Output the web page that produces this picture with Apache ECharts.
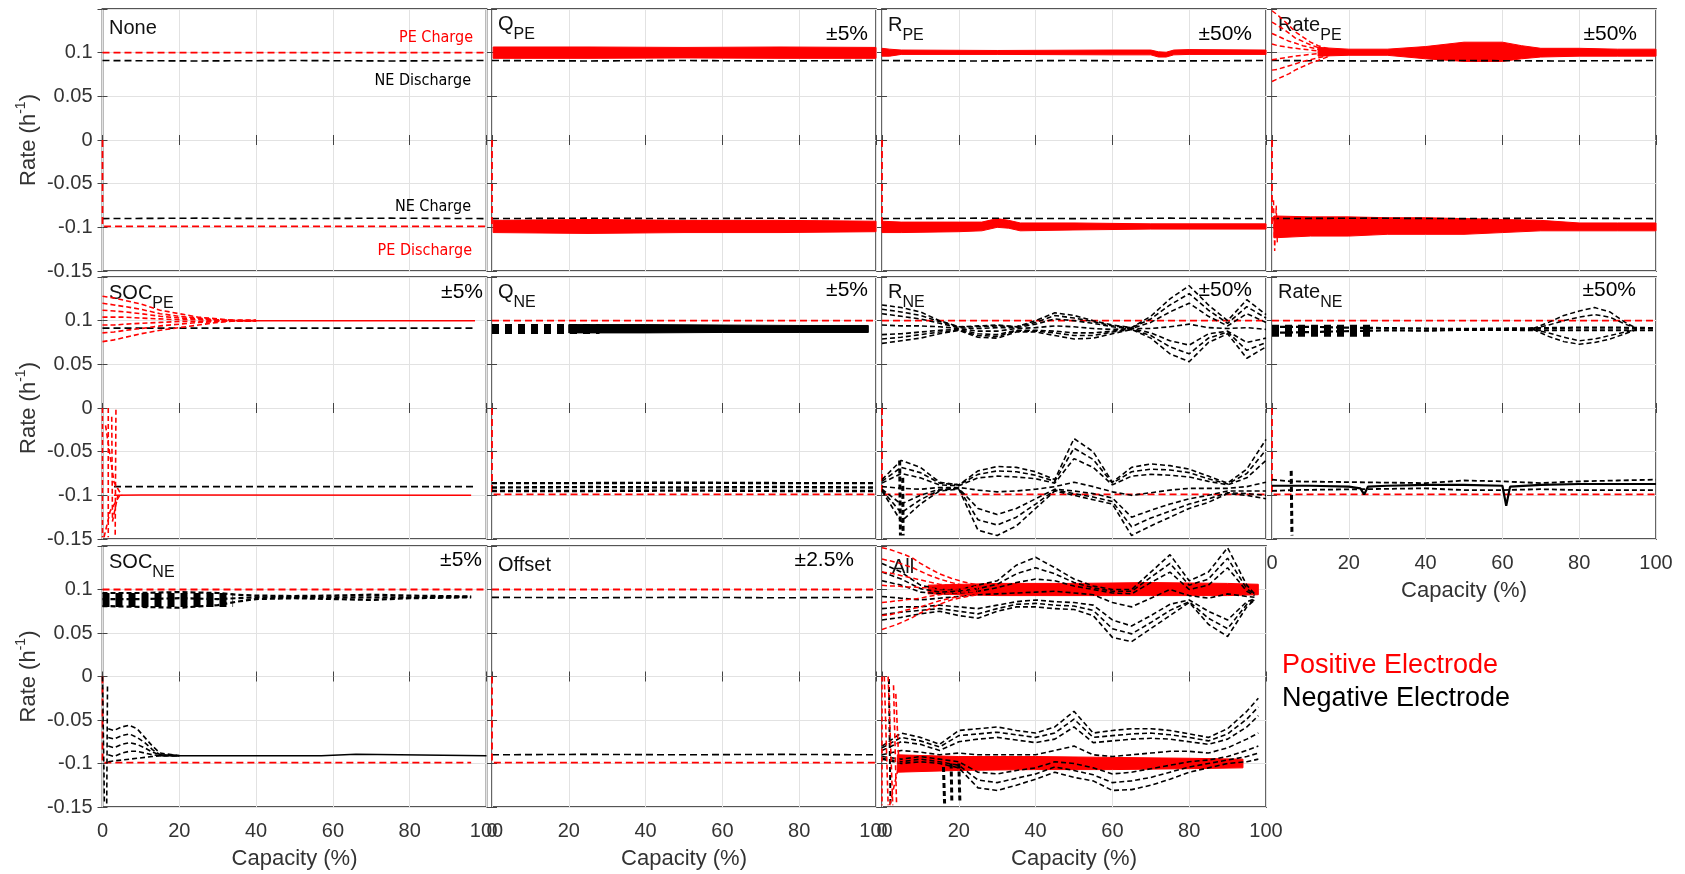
<!DOCTYPE html>
<html><head><meta charset="utf-8">
<script src="https://cdn.jsdelivr.net/npm/echarts@6/dist/echarts.min.js"></script>
<style>html,body{margin:0;padding:0;background:#fff}#c{width:1685px;height:874px}</style>
</head><body><div id="c"></div>
<script>
// ---------------- DATA ----------------
const X_MIN = 0, X_MAX = 100, X_STEP = 20;
const Y_MIN = -0.15, Y_MAX = 0.15, Y_STEP = 0.05;
const PANEL_MAIN  = ['None','Q','R','Rate','SOC','Q','R','Rate','SOC','Offset','All'];
const PANEL_SUB   = ['','PE','PE','PE','PE','NE','NE','NE','NE','',''];
const PANEL_RANGE = ['','±5%','±50%','±50%','±5%','±5%','±50%','±50%','±5%','±2.5%',''];
const NONE_NOTES  = ['PE Charge','NE Discharge','NE Charge','PE Discharge'];
const LEGEND_NAMES = ['Positive Electrode','Negative Electrode'];

// common nominal lines
const flat_x = [0, 25, 50, 75, 100];
const pe_charge = [0.1, 0.1, 0.1, 0.1, 0.1];
const ne_discharge = [0.091, 0.0905, 0.091, 0.0905, 0.091];
const ne_charge = [-0.09, -0.0895, -0.09, -0.0895, -0.09];
const pe_dis_x = [0, 0, 25, 50, 75, 100];
const pe_discharge = [0, -0.099, -0.099, -0.099, -0.099, -0.099];

// Q_PE
const qpe_x = [0.3, 25, 50, 75, 100];
const qpe_top_lo = [0.0935, 0.0935, 0.094, 0.0935, 0.0935];
const qpe_top_hi = [0.1065, 0.1065, 0.106, 0.1065, 0.106];
const qpe_bot_lo = [-0.106, -0.107, -0.106, -0.106, -0.105];
const qpe_bot_hi = [-0.092, -0.091, -0.092, -0.092, -0.093];

// R_PE
const rpe_top_x = [0, 2, 5, 30, 60, 70, 72, 74, 76, 80, 100];
const rpe_top_lo = [0.096, 0.096, 0.098, 0.098, 0.0975, 0.0975, 0.095, 0.095, 0.0975, 0.098, 0.098];
const rpe_top_hi = [0.105, 0.104, 0.103, 0.1025, 0.103, 0.103, 0.101, 0.1005, 0.103, 0.1035, 0.103];
const rpe_bot_x = [0, 5, 20, 26, 30, 33, 36, 50, 70, 100];
const rpe_bot_lo = [-0.106, -0.106, -0.105, -0.104, -0.100, -0.101, -0.104, -0.103, -0.102, -0.102];
const rpe_bot_hi = [-0.093, -0.094, -0.094, -0.094, -0.090, -0.092, -0.095, -0.095, -0.096, -0.096];

// Rate_PE
const ratepe_fan_x = [0, 1.5, 3, 4.5, 6, 8, 10, 12, 15];
const ratepe_fan_1 = [0.148, 0.143, 0.137, 0.131, 0.124, 0.118, 0.112, 0.108, 0.104];
const ratepe_fan_2 = [0.135, 0.131, 0.127, 0.122, 0.117, 0.113, 0.109, 0.106, 0.103];
const ratepe_fan_3 = [0.122, 0.119, 0.116, 0.113, 0.111, 0.108, 0.106, 0.104, 0.102];
const ratepe_fan_4 = [0.110, 0.108, 0.107, 0.106, 0.105, 0.104, 0.103, 0.102, 0.101];
const ratepe_fan_5 = [0.092, 0.093, 0.094, 0.095, 0.096, 0.097, 0.098, 0.099, 0.099];
const ratepe_fan_6 = [0.080, 0.081, 0.083, 0.085, 0.087, 0.090, 0.092, 0.094, 0.097];
const ratepe_fan_7 = [0.067, 0.070, 0.073, 0.076, 0.080, 0.084, 0.088, 0.091, 0.096];
const ratepe_top_x = [12, 20, 30, 40, 50, 60, 65, 70, 80, 90, 100];
const ratepe_top_hi = [0.106, 0.104, 0.104, 0.107, 0.112, 0.112, 0.108, 0.105, 0.105, 0.104, 0.104];
const ratepe_top_lo = [0.096, 0.097, 0.097, 0.093, 0.090, 0.090, 0.093, 0.095, 0.096, 0.096, 0.096];
const ratepe_bot_x = [0.5, 10, 20, 30, 40, 50, 60, 70, 80, 90, 100];
const ratepe_bot_hi = [-0.087, -0.088, -0.088, -0.089, -0.089, -0.090, -0.091, -0.092, -0.095, -0.095, -0.095];
const ratepe_bot_lo = [-0.112, -0.110, -0.110, -0.108, -0.108, -0.108, -0.106, -0.104, -0.104, -0.104, -0.104];
const ratepe_spike = [[0.4, -0.069], [0.7, -0.127], [1.1, -0.075], [1.4, -0.12]];

// SOC_PE
const socpe_fan_x = [0, 3, 6, 10, 15, 20, 25, 30, 35, 40];
const socpe_fan_1 = [0.128, 0.126, 0.123, 0.119, 0.112, 0.108, 0.104, 0.102, 0.100, 0.100];
const socpe_fan_2 = [0.120, 0.118, 0.116, 0.113, 0.108, 0.105, 0.103, 0.101, 0.100, 0.100];
const socpe_fan_3 = [0.112, 0.111, 0.110, 0.108, 0.105, 0.103, 0.102, 0.101, 0.100, 0.100];
const socpe_fan_4 = [0.104, 0.104, 0.104, 0.103, 0.102, 0.101, 0.101, 0.100, 0.100, 0.100];
const socpe_fan_5 = [0.095, 0.095, 0.096, 0.097, 0.098, 0.099, 0.099, 0.100, 0.100, 0.100];
const socpe_fan_6 = [0.086, 0.087, 0.089, 0.091, 0.094, 0.096, 0.098, 0.099, 0.100, 0.100];
const socpe_fan_7 = [0.076, 0.078, 0.081, 0.085, 0.089, 0.092, 0.095, 0.098, 0.100, 0.100];
const socpe_pe_ch_x = [35, 72, 72.5, 97];
const socpe_pe_ch = [0.1, 0.1, 0.1012, 0.1];
const socpe_ne_dis_x = [0, 97];
const socpe_ne_dis = [0.0915, 0.0915];
const socpe_ne_ch_x = [3, 97];
const socpe_ne_ch = [-0.09, -0.09];
const socpe_drop_1 = [[0, 0], [0, -0.148]];
const socpe_drop_2 = [[1.5, 0], [1.5, -0.148]];
const socpe_drop_3 = [[3.5, -0.002], [3.3, -0.148]];
const socpe_drop_4 = [[0.4, -0.148], [2, -0.118], [4.5, -0.1]];
const socpe_drop_5 = [[0.8, -0.02], [3, -0.085], [5, -0.1]];
const socpe_drop_6 = [[2.4, -0.01], [2.6, -0.13], [4, -0.1]];
const socpe_pe_dis_x = [3, 10, 20, 96];
const socpe_pe_dis = [-0.1, -0.0995, -0.0995, -0.1];

// Q_NE
const qne_comb = [[0, 0.0905], [28, 0.0905]];
const qne_band_x = [20, 40, 60, 80, 98];
const qne_band_lo = [0.086, 0.086, 0.0865, 0.0865, 0.0865];
const qne_band_hi = [0.0955, 0.0955, 0.095, 0.0945, 0.0945];
const qne_bot_x = [0, 25, 50, 75, 100];
const qne_bot_1 = [-0.086, -0.086, -0.0855, -0.086, -0.086];
const qne_bot_2 = [-0.091, -0.0905, -0.091, -0.0905, -0.091];
const qne_bot_3 = [-0.095, -0.095, -0.0945, -0.095, -0.095];

// R_NE
const G5 = [0, 5, 10, 15, 20, 25, 30, 35, 40, 45, 50, 55, 60, 65, 70, 75, 80, 85, 90, 95, 100];
const rne_top_1 = [.118,.115,.110,.100,.093,.094,.095,.093,.100,.109,.106,.100,.095,.092,.105,.125,.140,.118,.100,.124,.107];
const rne_top_6 = [.113,.110,.106,.099,.093,.093,.094,.093,.098,.106,.103,.099,.094,.092,.102,.118,.131,.112,.097,.116,.103];
const rne_top_2 = [.108,.105,.102,.097,.092,.091,.092,.092,.096,.102,.100,.097,.093,.091,.098,.110,.120,.105,.094,.108,.098];
const rne_top_3 = [.095,.094,.094,.093,.091,.088,.088,.091,.092,.094,.093,.091,.090,.091,.091,.093,.096,.092,.091,.092,.090];
const rne_top_4 = [.084,.085,.087,.089,.090,.085,.084,.089,.089,.088,.086,.086,.088,.091,.086,.077,.072,.085,.088,.075,.080];
const rne_top_7 = [.079,.081,.084,.087,.089,.083,.082,.088,.088,.086,.083,.083,.087,.090,.083,.070,.062,.080,.087,.066,.075];
const rne_top_5 = [.074,.077,.080,.085,.089,.081,.080,.087,.087,.083,.079,.080,.085,.090,.080,.062,.053,.075,.085,.057,.070];
const rne_bot_1 = [-.082,-.060,-.068,-.085,-.088,-.072,-.067,-.068,-.073,-.082,-.035,-.050,-.085,-.068,-.064,-.066,-.070,-.078,-.086,-.070,-.036];
const rne_bot_6 = [-.084,-.068,-.074,-.086,-.088,-.076,-.072,-.073,-.077,-.084,-.046,-.059,-.086,-.073,-.070,-.071,-.074,-.081,-.087,-.075,-.048];
const rne_bot_2 = [-.086,-.075,-.080,-.088,-.089,-.080,-.078,-.079,-.081,-.086,-.058,-.068,-.088,-.078,-.076,-.077,-.079,-.084,-.088,-.080,-.060];
const rne_bot_3 = [-.090,-.092,-.093,-.091,-.091,-.094,-.096,-.095,-.093,-.090,-.085,-.090,-.096,-.100,-.097,-.094,-.092,-.092,-.092,-.090,-.085];
const rne_bot_4 = [-.093,-.110,-.100,-.093,-.092,-.115,-.122,-.115,-.104,-.093,-.095,-.098,-.103,-.125,-.117,-.110,-.104,-.100,-.095,-.095,-.095];
const rne_bot_7 = [-.094,-.120,-.105,-.094,-.092,-.128,-.134,-.125,-.110,-.094,-.098,-.102,-.107,-.136,-.126,-.118,-.110,-.104,-.097,-.098,-.100];
const rne_bot_5 = [-.095,-.130,-.110,-.095,-.093,-.140,-.146,-.135,-.115,-.095,-.100,-.105,-.110,-.146,-.135,-.125,-.115,-.108,-.098,-.100,-.104];
const rne_spike_1 = [[4.6, -0.06], [4.8, -0.146]];
const rne_spike_2 = [[5.4, -0.08], [5.5, -0.146]];

// Rate_NE
const ratene_comb = [[0, 0.0885], [26, 0.0885]];
const ratene_top_x = [0, 10, 20, 30, 40, 50, 60, 70, 80, 90, 100];
const ratene_top_1 = [0.093, 0.093, 0.092, 0.0915, 0.091, 0.0905, 0.091, 0.0915, 0.092, 0.092, 0.0915];
const ratene_top_2 = [0.086, 0.087, 0.088, 0.089, 0.0885, 0.0895, 0.0895, 0.089, 0.089, 0.089, 0.089];
const ratene_bulge_x = [68, 72, 76, 80, 84, 88, 92, 95];
const ratene_bulge_1 = [0.091, 0.098, 0.106, 0.111, 0.115, 0.110, 0.098, 0.091];
const ratene_bulge_2 = [0.091, 0.095, 0.100, 0.104, 0.107, 0.104, 0.096, 0.091];
const ratene_bulge_3 = [0.090, 0.086, 0.081, 0.077, 0.079, 0.083, 0.087, 0.090];
const ratene_bulge_4 = [0.090, 0.082, 0.076, 0.073, 0.075, 0.079, 0.085, 0.090];
const ratene_bot_x = [0, 10, 20, 23, 24, 25, 30, 40, 50, 60, 61, 62, 70, 80, 90, 100];
const ratene_bot = [-0.089, -0.089, -0.090, -0.092, -0.099, -0.090, -0.089, -0.088, -0.088, -0.089, -0.112, -0.090, -0.088, -0.087, -0.087, -0.087];
const ratene_edge_x = [0, 5, 40, 50, 60, 70, 80, 90, 100];
const ratene_edge_hi = [-0.082, -0.084, -0.086, -0.083, -0.084, -0.086, -0.084, -0.083, -0.082];
const ratene_edge_lo = [-0.095, -0.094, -0.092, -0.094, -0.094, -0.093, -0.094, -0.094, -0.094];
const ratene_spike = [[5, -0.072], [5.2, -0.146]];

// SOC_NE
const socne_top_x = [0, 10, 20, 30, 35, 40, 50, 60, 70, 80, 96];
const socne_top_1 = [0.096, 0.096, 0.097, 0.096, 0.094, 0.093, 0.0925, 0.093, 0.094, 0.093, 0.092];
const socne_top_2 = [0.089, 0.089, 0.090, 0.089, 0.090, 0.091, 0.091, 0.091, 0.091, 0.091, 0.0915];
const socne_top_3 = [0.081, 0.080, 0.079, 0.082, 0.086, 0.089, 0.090, 0.089, 0.088, 0.090, 0.091];
const socne_comb = [[0, 0.088], [34, 0.088]];
const socne_drop_1 = [[0, 0], [0.5, -0.146]];
const socne_drop_2 = [[1.1, -0.146], [1.3, -0.01]];
const socne_fan_x = [1.5, 3, 5, 7, 9, 11, 13, 15, 20];
const socne_fan_1 = [-0.060, -0.062, -0.058, -0.056, -0.060, -0.070, -0.080, -0.088, -0.091];
const socne_fan_2 = [-0.070, -0.072, -0.068, -0.066, -0.070, -0.076, -0.084, -0.090, -0.091];
const socne_fan_3 = [-0.080, -0.082, -0.078, -0.076, -0.078, -0.082, -0.087, -0.090, -0.091];
const socne_fan_4 = [-0.090, -0.092, -0.088, -0.086, -0.086, -0.088, -0.090, -0.091, -0.091];
const socne_fan_5 = [-0.098, -0.097, -0.096, -0.095, -0.094, -0.093, -0.092, -0.091, -0.091];
const socne_ne_ch_x = [15, 57, 57.5, 66, 66.5, 100];
const socne_ne_ch = [-0.091, -0.091, -0.0895, -0.0895, -0.091, -0.091];
const socne_pe_dis_x = [0, 0, 96];
const socne_pe_dis = [0, -0.099, -0.099];

// All
const all_x_top = [0, 5, 10, 15, 20, 25, 30, 35, 40, 45, 50, 55, 60, 65, 70, 75, 80, 85, 90, 95, 97];
const all_top_1 = [.130,.120,.105,.100,.100,.105,.110,.128,.137,.125,.112,.104,.100,.100,.120,.140,.110,.120,.148,.105,.095];
const all_top_6 = [.120,.112,.101,.097,.098,.101,.106,.118,.125,.118,.108,.102,.098,.098,.114,.130,.105,.112,.136,.101,.094];
const all_top_2 = [.110,.105,.097,.095,.096,.098,.102,.108,.112,.110,.104,.100,.096,.095,.108,.120,.100,.105,.125,.098,.093];
const all_top_3 = [.092,.090,.088,.090,.092,.094,.095,.096,.097,.098,.096,.094,.085,.080,.090,.100,.093,.090,.095,.092,.091];
const all_top_4 = [.078,.080,.080,.082,.080,.078,.082,.086,.088,.086,.085,.082,.065,.058,.070,.083,.088,.075,.065,.086,.089];
const all_top_7 = [.071,.074,.076,.078,.075,.072,.078,.083,.084,.082,.081,.076,.055,.049,.062,.076,.086,.067,.055,.083,.088];
const all_top_5 = [.065,.068,.072,.075,.070,.067,.075,.080,.080,.078,.077,.070,.045,.040,.055,.070,.085,.060,.046,.080,.088];
const all_x_bot = [0, 5, 10, 15, 20, 25, 30, 35, 40, 45, 50, 55, 60, 65, 70, 75, 80, 85, 90, 95, 98];
const all_bot_1 = [-.080,-.065,-.070,-.078,-.062,-.060,-.058,-.062,-.065,-.058,-.040,-.065,-.062,-.060,-.060,-.062,-.066,-.070,-.060,-.040,-.025];
const all_bot_6 = [-.082,-.070,-.074,-.081,-.068,-.066,-.064,-.067,-.070,-.065,-.049,-.070,-.068,-.066,-.065,-.067,-.070,-.074,-.066,-.049,-.035];
const all_bot_2 = [-.085,-.075,-.078,-.085,-.075,-.072,-.070,-.073,-.076,-.072,-.058,-.076,-.074,-.072,-.071,-.072,-.075,-.078,-.072,-.058,-.045];
const all_bot_3 = [-.090,-.085,-.087,-.090,-.088,-.090,-.090,-.090,-.090,-.085,-.080,-.090,-.092,-.090,-.088,-.086,-.086,-.088,-.082,-.072,-.065];
const all_bot_4 = [-.092,-.095,-.092,-.095,-.098,-.110,-.112,-.108,-.105,-.098,-.100,-.105,-.112,-.110,-.106,-.102,-.098,-.096,-.092,-.085,-.080];
const all_bot_7 = [-.094,-.098,-.095,-.098,-.102,-.119,-.122,-.117,-.112,-.104,-.108,-.113,-.122,-.120,-.116,-.110,-.104,-.100,-.096,-.092,-.088];
const all_bot_5 = [-.095,-.100,-.098,-.100,-.105,-.128,-.131,-.125,-.118,-.110,-.116,-.120,-.131,-.130,-.125,-.118,-.110,-.105,-.100,-.098,-.095];
const all_spike_1 = [[1.8, -0.003], [2.2, -0.146]];
const all_block_1 = [[16, -0.104], [16.3, -0.146]];
const all_block_2 = [[18, -0.100], [18.2, -0.146]];
const all_block_3 = [[20, -0.100], [20.3, -0.146]];
const all_fan_x = [0, 2, 4, 6, 8, 10, 12, 15, 18, 21, 25];
const all_fan_1 = [.148,.146,.143,.140,.136,.130,.125,.118,.113,.109,.105];
const all_fan_2 = [.135,.133,.131,.128,.125,.121,.117,.112,.108,.105,.103];
const all_fan_3 = [.120,.119,.117,.115,.113,.111,.109,.106,.104,.102,.101];
const all_fan_4 = [.105,.104,.104,.103,.103,.102,.102,.101,.101,.100,.100];
const all_fan_5 = [.085,.086,.087,.088,.089,.090,.092,.094,.096,.097,.098];
const all_fan_6 = [.070,.071,.073,.076,.078,.080,.083,.087,.090,.093,.095];
const all_fan_7 = [.054,.057,.060,.064,.068,.073,.077,.083,.088,.091,.094];
const all_rtop_x = [12, 30, 50, 70, 90, 98];
const all_rtop_lo = [0.095, 0.093, 0.093, 0.093, 0.093, 0.094];
const all_rtop_hi = [0.105, 0.107, 0.107, 0.108, 0.107, 0.106];
const all_drop_1 = [[0, 0], [0, -0.148]];
const all_drop_2 = [[0.6, 0], [1.6, -0.148]];
const all_drop_3 = [[1.6, 0], [2.8, -0.148]];
const all_drop_4 = [[3, -0.01], [3.8, -0.148]];
const all_drop_5 = [[2, -0.148], [4.5, -0.1]];
const all_drop_6 = [[3.6, -0.02], [4.4, -0.1]];
const all_rbot_x = [4, 20, 40, 60, 80, 94];
const all_rbot_lo = [-0.110, -0.108, -0.107, -0.107, -0.106, -0.105];
const all_rbot_hi = [-0.090, -0.092, -0.092, -0.093, -0.094, -0.095];

// ---------------- BUILD ----------------
const R = '#ff0000', K = '#000000';
const DASH = [7, 4], FINE = [5, 3], COMB = [7, 6];
const FONT = '"Liberation Sans", Arial, sans-serif';
const TXT = '#333333';
function zip(xs, ys) { return xs.map((x, i) => [x, ys[i]]); }
function nameOf(color) { return color === R ? LEGEND_NAMES[0] : LEGEND_NAMES[1]; }
function line(gi, data, color, width, dash) {
  return { type: 'line', name: nameOf(color), color: color,
    xAxisIndex: gi, yAxisIndex: gi, data: data, symbol: 'none', silent: true, z: 2,
    lineStyle: { color: color, width: width, type: dash || 'solid', cap: 'butt' } };
}
// filled band between a lower and an upper curve, drawn through the axis scales
function band(gi, xs, lo, hi, color) {
  const pts = xs.map((x, i) => [x, lo[i], hi[i]]);
  return { type: 'custom', name: nameOf(color), color: color, coordinateSystem: 'cartesian2d',
    xAxisIndex: gi, yAxisIndex: gi, data: pts, silent: true, z: 2,
    encode: { x: 0, y: [1, 2] },
    renderItem: function (params, api) {
      if (params.dataIndex !== 0) return null;
      const up = pts.map(p => api.coord([p[0], p[2]]));
      const dn = pts.slice().reverse().map(p => api.coord([p[0], p[1]]));
      return { type: 'polygon', shape: { points: up.concat(dn) }, style: { fill: color, stroke: color, lineWidth: 1 } };
    } };
}
const S = [];
function add(...items) { items.forEach(it => S.push(it)); }
function nominal(gi) {
  add(line(gi, zip(flat_x, ne_discharge), K, 1.6, DASH), line(gi, zip(flat_x, ne_charge), K, 1.6, DASH),
      line(gi, zip(flat_x, pe_charge), R, 1.8, DASH), line(gi, zip(pe_dis_x, pe_discharge), R, 1.8, DASH));
}
// 0 None
nominal(0);
// 1 Q_PE
add(line(1, zip(flat_x, ne_discharge), K, 1.6, DASH), line(1, zip(flat_x, ne_charge), K, 1.6, DASH),
    band(1, qpe_x, qpe_top_lo, qpe_top_hi, R), band(1, qpe_x, qpe_bot_lo, qpe_bot_hi, R),
    line(1, [[0, 0], [0, -0.1]], R, 1.8, DASH));
// 2 R_PE
add(line(2, zip(flat_x, ne_discharge), K, 1.6, DASH), line(2, zip(flat_x, ne_charge), K, 1.6, DASH),
    band(2, rpe_top_x, rpe_top_lo, rpe_top_hi, R), band(2, rpe_bot_x, rpe_bot_lo, rpe_bot_hi, R),
    line(2, [[0, 0], [0, -0.1]], R, 1.8, DASH));
// 3 Rate_PE
add(line(3, zip(flat_x, ne_discharge), K, 1.6, DASH), line(3, zip(flat_x, ne_charge), K, 1.6, DASH));
[ratepe_fan_1, ratepe_fan_2, ratepe_fan_3, ratepe_fan_4, ratepe_fan_5, ratepe_fan_6, ratepe_fan_7]
  .forEach(f => add(line(3, zip(ratepe_fan_x, f), R, 1.5, FINE)));
add(band(3, ratepe_top_x, ratepe_top_lo, ratepe_top_hi, R), band(3, ratepe_bot_x, ratepe_bot_lo, ratepe_bot_hi, R),
    line(3, ratepe_spike, R, 1.4, FINE), line(3, [[0, 0], [0, -0.1]], R, 1.8, DASH));
// 4 SOC_PE
add(line(4, zip(socpe_ne_dis_x, socpe_ne_dis), K, 1.6, DASH), line(4, zip(socpe_ne_ch_x, socpe_ne_ch), K, 1.6, DASH));
[socpe_fan_1, socpe_fan_2, socpe_fan_3, socpe_fan_4, socpe_fan_5, socpe_fan_6, socpe_fan_7]
  .forEach(f => add(line(4, zip(socpe_fan_x, f), R, 1.6, FINE)));
add(line(4, zip(socpe_pe_ch_x, socpe_pe_ch), R, 1.5));
[socpe_drop_1, socpe_drop_2, socpe_drop_3, socpe_drop_4, socpe_drop_5, socpe_drop_6].forEach(d => add(line(4, d, R, 1.6, FINE)));
add(line(4, zip(socpe_pe_dis_x, socpe_pe_dis), R, 1.5));
// 5 Q_NE
add(line(5, zip(flat_x, pe_charge), R, 1.8, DASH), line(5, zip(pe_dis_x, pe_discharge), R, 1.8, DASH),
    line(5, qne_comb, K, 10, COMB), band(5, qne_band_x, qne_band_lo, qne_band_hi, K));
[qne_bot_1, qne_bot_2, qne_bot_3].forEach(d => add(line(5, zip(qne_bot_x, d), K, 2.4, FINE)));
// 6 R_NE
add(line(6, zip(flat_x, pe_charge), R, 1.8, DASH), line(6, zip(pe_dis_x, pe_discharge), R, 1.8, DASH));
[rne_top_1, rne_top_6, rne_top_2, rne_top_3, rne_top_4, rne_top_7, rne_top_5,
 rne_bot_1, rne_bot_6, rne_bot_2, rne_bot_3, rne_bot_4, rne_bot_7, rne_bot_5]
  .forEach(d => add(line(6, zip(G5, d), K, 1.6, FINE)));
add(line(6, rne_spike_1, K, 3, FINE), line(6, rne_spike_2, K, 3, FINE));
// 7 Rate_NE
add(line(7, zip(flat_x, pe_charge), R, 1.8, DASH), line(7, zip(pe_dis_x, pe_discharge), R, 1.8, DASH),
    line(7, ratene_comb, K, 12, COMB));
[ratene_top_1, ratene_top_2].forEach(d => add(line(7, zip(ratene_top_x, d), K, 2.2, FINE)));
[ratene_bulge_1, ratene_bulge_2, ratene_bulge_3, ratene_bulge_4].forEach(d => add(line(7, zip(ratene_bulge_x, d), K, 1.5, FINE)));
add(line(7, zip(ratene_bot_x, ratene_bot), K, 2.2), line(7, zip(ratene_edge_x, ratene_edge_hi), K, 1.8, FINE),
    line(7, zip(ratene_edge_x, ratene_edge_lo), K, 1.8, FINE), line(7, ratene_spike, K, 3, FINE));
// 8 SOC_NE
add(line(8, zip(flat_x, pe_charge), R, 1.8, DASH), line(8, zip(socne_pe_dis_x, socne_pe_dis), R, 1.8, DASH),
    line(8, socne_comb, K, 14, COMB));
[socne_top_1, socne_top_2, socne_top_3].forEach(d => add(line(8, zip(socne_top_x, d), K, 2.2, FINE)));
add(line(8, socne_drop_1, K, 1.6, FINE), line(8, socne_drop_2, K, 1.6, FINE));
[socne_fan_1, socne_fan_2, socne_fan_3, socne_fan_4, socne_fan_5].forEach(d => add(line(8, zip(socne_fan_x, d), K, 1.6, FINE)));
add(line(8, zip(socne_ne_ch_x, socne_ne_ch), K, 1.5));
// 9 Offset
nominal(9);
// 10 All
[all_top_1, all_top_6, all_top_2, all_top_3, all_top_4, all_top_7, all_top_5].forEach(d => add(line(10, zip(all_x_top, d), K, 1.6, FINE)));
[all_bot_1, all_bot_6, all_bot_2, all_bot_3, all_bot_4, all_bot_7, all_bot_5].forEach(d => add(line(10, zip(all_x_bot, d), K, 1.6, FINE)));
add(line(10, all_spike_1, K, 2, FINE), line(10, all_block_1, K, 3, FINE), line(10, all_block_2, K, 3, FINE), line(10, all_block_3, K, 3, FINE));
[all_fan_1, all_fan_2, all_fan_3, all_fan_4, all_fan_5, all_fan_6, all_fan_7].forEach(d => add(line(10, zip(all_fan_x, d), R, 1.5, FINE)));
add(band(10, all_rtop_x, all_rtop_lo, all_rtop_hi, R));
[all_drop_1, all_drop_2, all_drop_3, all_drop_4, all_drop_5, all_drop_6].forEach(d => add(line(10, d, R, 1.6, FINE)));
add(band(10, all_rbot_x, all_rbot_lo, all_rbot_hi, R));

// ---------------- LAYOUT ----------------
const COL_L = [102.5, 492, 882, 1272], COL_W = 384;
const ROW_T = [9, 277, 546], ROW_H = [262, 262, 261];
const grids = [], xAxes = [], yAxes = [];
const showX = [false, false, false, false, false, false, false, true, true, true, true];
for (let i = 0; i < 11; i++) {
  const r = Math.floor(i / 4), c = i % 4;
  grids.push({ left: COL_L[c], top: ROW_T[r], width: COL_W, height: ROW_H[r], show: true,
    borderColor: '#555555', borderWidth: 1.8, backgroundColor: 'transparent', outerBoundsMode: 'none' });
}
const tick = { show: true, inside: true, length: 5, lineStyle: { color: '#444', width: 1 } };
for (let i = 0; i < 11; i++) {
  const c = i % 4;
  xAxes.push({ type: 'value', gridIndex: i, min: X_MIN, max: X_MAX, interval: X_STEP, position: 'bottom',
    axisLine: { show: false }, axisTick: tick,
    splitLine: { show: true, lineStyle: { color: '#e2e2e2', width: 1 } },
    axisLabel: { show: showX[i], fontSize: 20, color: TXT, fontFamily: FONT, margin: 14 },
    name: showX[i] ? 'Capacity (%)' : '', nameLocation: 'middle', nameGap: 41,
    nameTextStyle: { fontSize: 22, color: TXT, fontFamily: FONT } });
  yAxes.push({ type: 'value', gridIndex: i, min: Y_MIN, max: Y_MAX, interval: Y_STEP, position: 'left',
    axisLine: { show: false }, axisTick: tick,
    splitLine: { show: true, lineStyle: { color: '#e2e2e2', width: 1 } },
    axisLabel: { show: c === 0, fontSize: 20, color: TXT, fontFamily: FONT, margin: 10,
      formatter: v => (Math.abs(v - Y_MAX) < 1e-9 ? '' : String(+v.toFixed(2))) },
    name: c === 0 ? '{a|Rate (h}{b|-1}{a|)}' : '', nameLocation: 'middle', nameGap: 60,
    nameTextStyle: { fontSize: 22, color: TXT, fontFamily: FONT,
      rich: { a: { fontSize: 22, color: TXT, fontFamily: FONT }, b: { fontSize: 14, color: TXT, fontFamily: FONT, padding: [0, 0, 14, 0] } } } });
}
for (let i = 0; i < 11; i++) {
  xAxes.push({ type: 'value', gridIndex: i, min: X_MIN, max: X_MAX, interval: X_STEP, position: 'top',
    axisLine: { show: false }, axisTick: tick, splitLine: { show: false }, axisLabel: { show: false } });
  yAxes.push({ type: 'value', gridIndex: i, min: Y_MIN, max: Y_MAX, interval: Y_STEP, position: 'right',
    axisLine: { show: false }, axisTick: tick, splitLine: { show: false }, axisLabel: { show: false } });
}

// titles
const TITLE_POS = [[109, 18], [498, 6], [888, 7], [1278, 7], [109, 275], [498, 274], [888, 274], [1278, 274], [109, 544], [498, 555], [892, 557]];
const RANGE_POS = [null, [817, 24], [433, 24], [48, 24], [1202, 282], [817, 280], [433, 280], [49, 280], [1203, 550], [831, 550], null];
const titles = [];
for (let i = 0; i < 11; i++) {
  const txt = PANEL_SUB[i] ? '{m|' + PANEL_MAIN[i] + '}{s|' + PANEL_SUB[i] + '}' : '{m|' + PANEL_MAIN[i] + '}';
  titles.push({ text: txt, left: TITLE_POS[i][0], top: TITLE_POS[i][1], padding: 0, z: 1,
    textStyle: { fontWeight: 'normal', rich: { m: { fontSize: 20, fontWeight: 'normal', color: '#111', fontFamily: FONT },
      s: { fontSize: 16, fontWeight: 'normal', color: '#111', fontFamily: FONT, padding: [21, 0, 0, 0] } } } });
  if (RANGE_POS[i]) titles.push({ text: PANEL_RANGE[i], right: RANGE_POS[i][0], top: RANGE_POS[i][1], padding: 0,
    textStyle: { fontSize: 21, fontWeight: 'normal', color: '#000', fontFamily: FONT } });
}
const NOTE_FONT = '"Liberation Sans Narrow", "DejaVu Sans Condensed", "Open Sans", sans-serif';
const NOTE_POS = [[1212, 30], [1214, 73], [1214, 199], [1213, 243]];
const NOTE_COL = [R, K, K, R];
NONE_NOTES.forEach((t, i) => titles.push({ text: t, right: NOTE_POS[i][0], top: NOTE_POS[i][1], padding: 0,
  textStyle: { fontSize: 16, fontWeight: 'normal', color: NOTE_COL[i], fontFamily: NOTE_FONT } }));

const chart = echarts.init(document.getElementById('c'), null, { renderer: 'canvas' });
chart.setOption({
  animation: false,
  backgroundColor: '#ffffff',
  title: titles,
  legend: { orient: 'vertical', left: 1277, top: 652, padding: 0, itemWidth: 0, itemHeight: 0, itemGap: 6,
    selectedMode: false, icon: 'rect', textStyle: { fontSize: 27, fontFamily: FONT },
    data: [{ name: LEGEND_NAMES[0], textStyle: { color: R } }, { name: LEGEND_NAMES[1], textStyle: { color: K } }] },
  grid: grids, xAxis: xAxes, yAxis: yAxes, series: S
});
</script></body></html>
